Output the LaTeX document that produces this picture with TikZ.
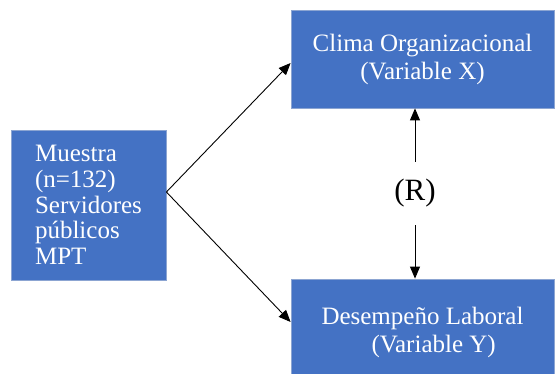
\documentclass[tikz,border=0pt]{standalone}
\usepackage{fontspec}
\setmainfont{Liberation Serif}
\newfontfamily\timesfont{Liberation Serif}
\usepackage{xcolor}
\usetikzlibrary{arrows.meta,positioning}
\definecolor{boxblue}{RGB}{68,114,196}
\definecolor{boxline}{RGB}{140,165,210}

\begin{document}
\begin{tikzpicture}[
  x=1pt, y=-1pt,
  every node/.append style={align=center},
  box/.style={rectangle, draw=boxline, line width=0.8pt, fill=boxblue, text=white, inner sep=0pt,
    font=\timesfont\fontsize{25}{28}\selectfont},
  arr/.style={-{Triangle[length=12pt,width=10pt]}, line width=0.9pt},
  lab/.style={font=\timesfont\fontsize{31}{34}\selectfont, inner sep=0pt}
]
\clip (0,0) rectangle (556,374);
\useasboundingbox (0,0) rectangle (556,374);
\node[box, minimum width=155pt, minimum height=150pt, align=left,
  font=\timesfont\fontsize{25}{25.7}\selectfont] (muestra) at (88.5,205)
  {Muestra\\(n=132)\\Servidores\\públicos\\MPT};
\node[box, minimum width=263pt, minimum height=98pt] (clima) at (422.5,59)
  {Clima Organizacional\\(Variable X)};
\node[box, minimum width=263pt, minimum height=106pt, align=left] (desemp) at (422.5,332)
  {Desempeño Laboral\\\hspace*{50pt}(Variable Y)};
\node[lab, minimum height=63pt] (r) at (415,193.5) {(R)};
\draw[arr] ([yshift=13pt]muestra.east) -- ([yshift=-4pt]clima.west);
\draw[arr] ([yshift=13pt]muestra.east) -- ([yshift=10pt]desemp.west);
\draw[arr] (r.north) -- (clima.south -| r);
\draw[arr] (r.south) -- (desemp.north -| r);
\end{tikzpicture}
\end{document}
